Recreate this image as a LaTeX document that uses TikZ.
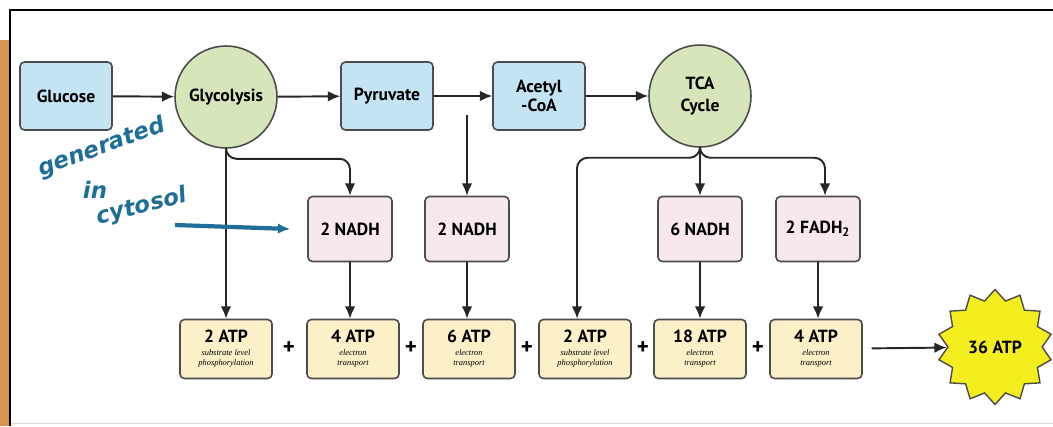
\documentclass[tikz,border=0pt]{standalone}
\usepackage{fontspec}
\setmainfont{PT Sans}
\newfontfamily\notas{Liberation Serif}
\newfontfamily\mano{DejaVu Sans}
\usetikzlibrary{shapes.geometric, arrows.meta}
\definecolor{azul}{HTML}{C4E3F3}
\definecolor{verde}{HTML}{D7E6BA}
\definecolor{rosa}{HTML}{F7E7EE}
\definecolor{crema}{HTML}{FBF0C8}
\definecolor{tinta}{HTML}{1E6E98}
\definecolor{naranja}{HTML}{D99550}
\definecolor{estrella}{HTML}{F4EE1E}
\tikzset{
	caja/.style={draw=black!70, line width=0.9pt, rounded corners=2.5pt, align=center, inner sep=0pt, font=\bfseries\fontsize{10}{11}\selectfont},
	paso/.style={caja, fill=azul, minimum width=1.84cm, minimum height=1.36cm},
	ciclo/.style={circle, draw=black!70, line width=0.9pt, fill=verde, minimum size=2.04cm, inner sep=0pt, align=center, font=\bfseries\fontsize{10}{12}\selectfont},
	nadh/.style={caja, fill=rosa, minimum width=1.68cm, minimum height=1.3cm},
	cajaatp/.style={caja, fill=crema, minimum width=1.84cm, minimum height=1.18cm},
	mano/.style={text=tinta, font=\mano\bfseries\itshape\fontsize{13}{14}\selectfont},
	flecha/.style={->, draw=black!85, line width=1.1pt}
}
\newcommand{\chica}{\notas\mdseries\itshape\fontsize{4.8}{5.4}\selectfont}
\newcommand{\atp}[5]{
	\node [cajaatp] (#1) at (#2) {#3\\[-4pt]\chica #4\\[-5pt]\chica #5};
	}
\newcommand{\mas}[2]{
	\node [font=\bfseries\fontsize{13}{13}\selectfont] (#1) at (#2) {+};
	}

\begin{document}
\begin{tikzpicture}[>={Latex[length=7pt,width=6pt]}, x=0.02cm, y=-0.02cm]
	\useasboundingbox (0,0) rectangle (1053,426);
	\fill [naranja] (0,40) rectangle (10,426);
	\draw [black!15] (10,423) -- (1053,423);
	\draw [line width=1.3pt] (1053,10) -- (10,10) -- (10,426);
	\node [paso] (glucosa) at (66,96) {Glucose};
	\node [ciclo] (glucolisis) at (226,97) {Glycolysis};
	\node [paso] (piruvato) at (387,96) {Pyruvate};
	\node [paso] (acetil) at (539,96) {Acetyl\\-CoA};
	\node [ciclo] (tca) at (700,96) {TCA\\Cycle};
	\node [nadh] (nadh1) at (350,229) {2 NADH};
	\node [nadh] (nadh2) at (467,229) {2 NADH};
	\node [nadh] (nadh3) at (700,229) {6 NADH};
	\node [nadh] (fadh) at (818,229) {2 FADH\textsubscript{2}};
	\atp{atp1}{226,349}{2 ATP}{substrate level}{phosphorylation}
	\atp{atp2}{353,349}{4 ATP}{electron}{transport}
	\atp{atp3}{469,349}{6 ATP}{electron}{transport}
	\atp{atp4}{585,349}{2 ATP}{substrate level}{phosphorylation}
	\atp{atp5}{700,349}{18 ATP}{electron}{transport}
	\atp{atp6}{816,349}{4 ATP}{electron}{transport}
	\mas{mas1}{289,348}
	\mas{mas2}{411,348}
	\mas{mas3}{527,348}
	\mas{mas4}{643,348}
	\mas{mas5}{758,348}
	\node [star, star points=14, star point ratio=1.22, minimum size=2.3cm, inner sep=0pt, draw=black!70, line width=0.8pt, fill=estrella, font=\bfseries\fontsize{10}{11}\selectfont] (total) at (995,347) {36 ATP};
	\draw [flecha] (glucosa) -- (glucolisis);
	\draw [flecha] (glucolisis) -- (piruvato);
	\draw [flecha] (piruvato) -- (acetil);
	\draw [flecha] (acetil) -- (tca);
	\draw [flecha] (glucolisis.south) -- (atp1.north);
	\draw [flecha, rounded corners=6pt] (glucolisis.south) -- ++(0,10) -| (nadh1.north);
	\coordinate (rama) at (467,115);
	\draw [flecha] (rama) -- (nadh2.north);
	\draw [flecha] (tca.south) -- (nadh3.north);
	\draw [flecha, rounded corners=6pt] (tca.south) -- ++(0,10) -| ([xshift=-0.16cm]atp4.north);
	\draw [flecha, rounded corners=6pt] (tca.south) -- ++(0,10) -| ([xshift=0.14cm]fadh.north);
	\draw [flecha] (nadh1.south) -- (nadh1.south |- atp2.north);
	\draw [flecha] (nadh2.south) -- (nadh2.south |- atp3.north);
	\draw [flecha] (nadh3.south) -- (nadh3.south |- atp5.north);
	\draw [flecha] (fadh.south) -- (fadh.south |- atp6.north);
	\draw [flecha, shorten <=5pt] (atp6) -- (total);
	\node [mano, rotate=20] (generado) at (102,148) {generated};
	\node [mano] (en) at (95,190) {in};
	\node [mano, rotate=14] (citosol) at (142,207) {cytosol};
	\coordinate (trazo) at (175,225);
	\draw [->, tinta, line width=2.4pt] (trazo) -- ([xshift=-0.34cm]nadh1.west);
\end{tikzpicture}
\end{document}
